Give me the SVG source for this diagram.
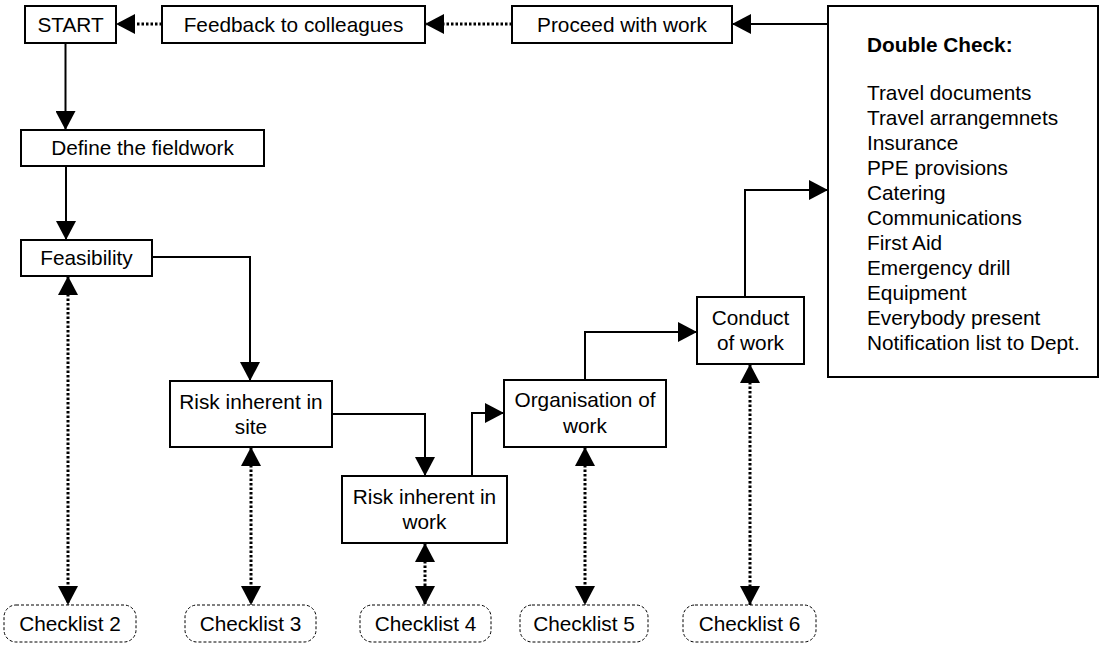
<svg xmlns="http://www.w3.org/2000/svg" width="1102" height="645" viewBox="0 0 1102 645">
<style>
  .box { fill: #fff; stroke: #000; stroke-width: 2; }
  .chk { fill: #fff; stroke: #000; stroke-width: 1; stroke-dasharray: 3 2; }
  text { font-family: "Liberation Sans", Arial, sans-serif; font-size: 20.8px; fill: #000; }
  .c { text-anchor: middle; }
  .solid { fill: none; stroke: #000; stroke-width: 2; }
  .dot { fill: none; stroke: #000; stroke-width: 3; stroke-dasharray: 2.5 2; }
</style>
<defs>
  <marker id="ah" markerUnits="userSpaceOnUse" markerWidth="20" markerHeight="20" refX="19" refY="10" orient="auto-start-reverse" viewBox="0 0 20 20">
    <path d="M0,0 L19,10 L0,20 Z" fill="#000"/>
  </marker>
</defs>
<rect width="1102" height="645" fill="#fff"/>
<g id="connectors">
  <path class="solid" d="M65.5,43 V130" marker-end="url(#ah)"/>
  <path class="solid" d="M66,166 V240" marker-end="url(#ah)"/>
  <path class="solid" d="M152,257 H250 V381" marker-end="url(#ah)"/>
  <path class="solid" d="M332,414 H425 V476" marker-end="url(#ah)"/>
  <path class="solid" d="M472,476 V413 H504" marker-end="url(#ah)"/>
  <path class="solid" d="M585,380 V332 H697" marker-end="url(#ah)"/>
  <path class="solid" d="M745,297 V190 H828" marker-end="url(#ah)"/>
  <path class="solid" d="M828,24 H732" marker-end="url(#ah)"/>
  <path class="dot" d="M512,24 H425" marker-end="url(#ah)"/>
  <path class="dot" d="M162,24 H116" marker-end="url(#ah)"/>
  <path class="dot" d="M68,276 V605" marker-start="url(#ah)" marker-end="url(#ah)"/>
  <path class="dot" d="M251,447 V605" marker-start="url(#ah)" marker-end="url(#ah)"/>
  <path class="dot" d="M425,543 V605" marker-start="url(#ah)" marker-end="url(#ah)"/>
  <path class="dot" d="M585,447 V605" marker-start="url(#ah)" marker-end="url(#ah)"/>
  <path class="dot" d="M750,364 V605" marker-start="url(#ah)" marker-end="url(#ah)"/>
</g>
<g id="start"><rect class="box" x="25" y="6" width="91" height="37"/><text class="c" x="70.5" y="32">START</text></g>
<g id="feedback"><rect class="box" x="162" y="6" width="263" height="37"/><text class="c" x="293.5" y="32">Feedback to colleagues</text></g>
<g id="proceed"><rect class="box" x="512" y="6" width="220" height="37"/><text class="c" x="622" y="32">Proceed with work</text></g>
<g id="doublecheck"><rect class="box" x="828" y="6" width="270" height="371"/>
  <text x="867" y="52" font-weight="bold">Double Check:</text>
  <text x="867" y="100">Travel documents</text>
  <text x="867" y="125">Travel arrangemnets</text>
  <text x="867" y="150">Insurance</text>
  <text x="867" y="175">PPE provisions</text>
  <text x="867" y="200">Catering</text>
  <text x="867" y="225">Communications</text>
  <text x="867" y="250">First Aid</text>
  <text x="867" y="275">Emergency drill</text>
  <text x="867" y="300">Equipment</text>
  <text x="867" y="325">Everybody present</text>
  <text x="867" y="350">Notification list to Dept.</text>
</g>
<g id="define"><rect class="box" x="21" y="130" width="243" height="36"/><text class="c" x="142.5" y="155">Define the fieldwork</text></g>
<g id="feasibility"><rect class="box" x="21" y="240" width="131" height="36"/><text class="c" x="86.5" y="265">Feasibility</text></g>
<g id="risksite"><rect class="box" x="170" y="381" width="162" height="66"/><text class="c" x="251" y="409">Risk inherent in</text><text class="c" x="251" y="434">site</text></g>
<g id="riskwork"><rect class="box" x="342" y="476" width="165" height="67"/><text class="c" x="424.5" y="504">Risk inherent in</text><text class="c" x="424.5" y="529">work</text></g>
<g id="organisation"><rect class="box" x="504" y="380" width="162" height="67"/><text class="c" x="585" y="407">Organisation of</text><text class="c" x="585" y="433">work</text></g>
<g id="conduct"><rect class="box" x="697" y="297" width="107" height="67"/><text class="c" x="750.5" y="325">Conduct</text><text class="c" x="750.5" y="350">of work</text></g>
<g id="checklist2"><rect class="chk" x="4" y="605" width="132" height="37" rx="12"/><text class="c" x="70" y="631">Checklist 2</text></g>
<g id="checklist3"><rect class="chk" x="185" y="605" width="131" height="37" rx="12"/><text class="c" x="250.5" y="631">Checklist 3</text></g>
<g id="checklist4"><rect class="chk" x="360" y="605" width="131" height="37" rx="12"/><text class="c" x="425.5" y="631">Checklist 4</text></g>
<g id="checklist5"><rect class="chk" x="520" y="605" width="128" height="37" rx="12"/><text class="c" x="584" y="631">Checklist 5</text></g>
<g id="checklist6"><rect class="chk" x="683" y="605" width="133" height="37" rx="12"/><text class="c" x="749.5" y="631">Checklist 6</text></g>
</svg>
